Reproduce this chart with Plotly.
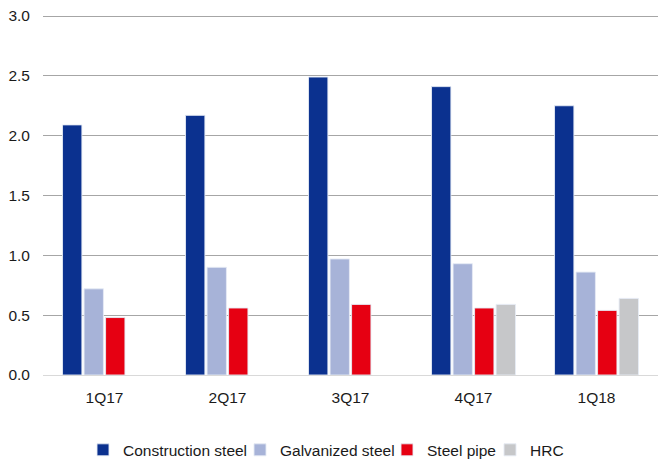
import plotly.graph_objects as go

quarters = ["1Q17", "2Q17", "3Q17", "4Q17", "1Q18"]
construction_steel = [2.09, 2.17, 2.49, 2.41, 2.25]
galvanized_steel = [0.72, 0.90, 0.97, 0.93, 0.86]
steel_pipe = [0.48, 0.56, 0.59, 0.56, 0.54]
hrc = [None, None, None, 0.59, 0.64]

series = [
    ("Construction steel", construction_steel, "#0B318F"),
    ("Galvanized steel", galvanized_steel, "#A7B3D8"),
    ("Steel pipe", steel_pipe, "#E60012"),
    ("HRC", hrc, "#C6C7C9"),
]

# left pixel where each legend's box should start
legend_px = [83, 240, 387, 490]
legend_names = ["legend", "legend2", "legend3", "legend4"]

PLOT_L, PLOT_W = 43, 615
font_family = "Liberation Sans, Arial, sans-serif"
FS = 15.5
TXT = "#1a1a1a"

fig = go.Figure()
for (name, vals, color), lg in zip(series, legend_names):
    fig.add_trace(go.Bar(
        x=quarters, y=vals, name=name, legend=lg,
        marker=dict(color=color, line=dict(color="rgba(230,235,245,0.9)", width=1)),
    ))

legend_layout = {}
for lg, px in zip(legend_names, legend_px):
    legend_layout[lg] = dict(
        orientation="h", x=(px - PLOT_L) / PLOT_W, xanchor="left",
        y=-0.209, yanchor="middle", font=dict(size=FS, color=TXT),
        itemwidth=30, bgcolor="rgba(0,0,0,0)",
    )

fig.update_layout(
    width=658, height=459,
    margin=dict(l=43, r=0, t=15, b=84, autoexpand=False),
    paper_bgcolor="white", plot_bgcolor="white",
    barmode="group", bargap=0.3, bargroupgap=0.1,
    font=dict(family=font_family, size=FS, color=TXT),
    showlegend=True,
    xaxis=dict(showgrid=False, showline=False, ticks="", ticklabelstandoff=11,
               tickfont=dict(size=FS, color=TXT)),
    yaxis=dict(range=[0, 3.0084], tickvals=[0, 0.5, 1.0, 1.5, 2.0, 2.5, 3.0],
               tickformat=".1f", showgrid=True,
               gridcolor="#A6A6A6", gridwidth=1, zeroline=True, zerolinecolor="#D9D9D9",
               zerolinewidth=1, showline=False, ticks="", ticklabelstandoff=12,
               tickfont=dict(size=FS, color=TXT)),
    **legend_layout,
)

fig.write_html("out.html")
